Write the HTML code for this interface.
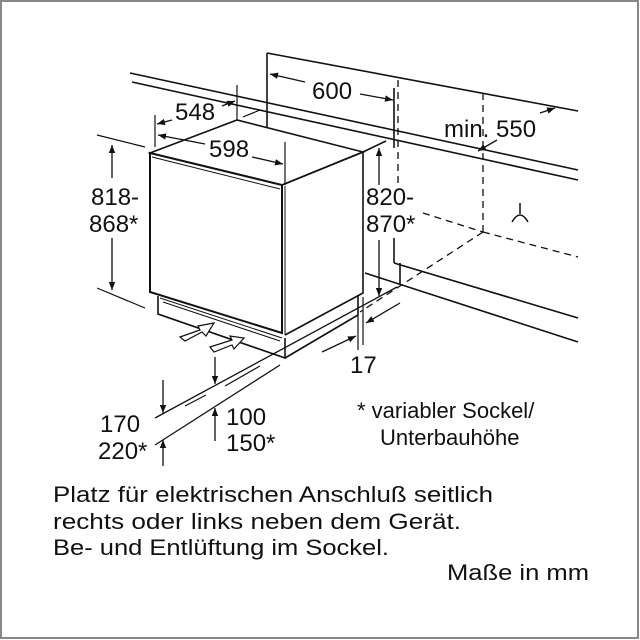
<!DOCTYPE html>
<html><head><meta charset="utf-8"><style>
html,body{margin:0;padding:0;background:#fff}
svg{display:block}
text{font-family:"Liberation Sans",Arial,sans-serif;fill:#111}
</style></head><body>
<svg width="640" height="640" viewBox="0 0 640 640" xmlns="http://www.w3.org/2000/svg">
<defs>
<marker id="a" viewBox="0 0 10 10" refX="10" refY="5" markerWidth="8" markerHeight="8" orient="auto-start-reverse" markerUnits="userSpaceOnUse"><path d="M0,1 L10,5 L0,9 Z" fill="#111"/></marker>
</defs>
<rect x="1" y="1" width="637" height="637" fill="none" stroke="#888" stroke-width="2"/>
<g stroke="#111" stroke-width="1.6" fill="none">
<line x1="267" y1="53" x2="578" y2="111"/>
<line x1="130" y1="73" x2="578" y2="170"/>
<line x1="132" y1="82" x2="578" y2="180"/>
<line x1="267" y1="53" x2="267" y2="137"/>
<line x1="394" y1="88" x2="394" y2="148"/>
<line x1="394" y1="238" x2="394" y2="263"/>
<line x1="394" y1="263" x2="578" y2="318"/>
<line x1="400" y1="263" x2="400" y2="285"/>
<line x1="365" y1="273" x2="578" y2="342"/>
<g stroke-dasharray="7,5" stroke-width="1.3">
<line x1="398" y1="80" x2="398" y2="185"/>
<line x1="483" y1="93" x2="483" y2="232"/>
<line x1="423" y1="213" x2="483" y2="232"/>
<line x1="483" y1="232" x2="578" y2="257"/>
<line x1="483" y1="232" x2="360" y2="312"/>
</g>
<polygon points="150,153 237,120 363,152 282,185" fill="#fff"/>
<polygon points="150,153 282,185 282,333 150,292" fill="#fff" stroke-width="2"/>
<polyline points="152,157 280,189" stroke-width="1"/>
<line x1="285" y1="186" x2="285" y2="335" stroke-width="1"/>
<polyline points="282,185 363,152 363,293 285,335"/>
<line x1="363" y1="152" x2="386" y2="141"/>
<polyline points="158,296 158,314 285,358 285,338"/>
<polyline points="285,358 358,315 358,295"/>
<line x1="160" y1="298" x2="282" y2="338" stroke-width="1"/>
<line x1="163" y1="302" x2="280" y2="341" stroke-width="1"/>
<polygon points="180,337 200,330 198,326 214,323 206,336 202,332 185,341" fill="#fff" stroke-width="1.2"/>
<polygon points="210,347 232,340 230,336 244,338 234,349 232,345 214,352" fill="#fff" stroke-width="1.2"/>
<line x1="97" y1="135" x2="145" y2="147" stroke-width="1.2"/>
<line x1="97" y1="288" x2="145" y2="308" stroke-width="1.2"/>
<line x1="112" y1="145" x2="112" y2="178" marker-start="url(#a)" stroke-width="1.3"/>
<line x1="112" y1="238" x2="112" y2="290" marker-end="url(#a)" stroke-width="1.3"/>
<line x1="155" y1="115" x2="155" y2="147" stroke-width="1.2"/>
<line x1="237" y1="85" x2="237" y2="120" stroke-width="1.2"/>
<line x1="285" y1="142" x2="285" y2="185" stroke-width="1.2"/>
<line x1="157" y1="124" x2="172" y2="120" marker-start="url(#a)" stroke-width="1.3"/>
<line x1="222" y1="106" x2="235" y2="101" marker-end="url(#a)" stroke-width="1.3"/>
<line x1="158" y1="135" x2="205" y2="144" marker-start="url(#a)" stroke-width="1.3"/>
<line x1="252" y1="157" x2="283" y2="164" marker-end="url(#a)" stroke-width="1.3"/>
<line x1="243" y1="117" x2="260" y2="110" stroke-width="1.2"/>
<line x1="270" y1="74" x2="305" y2="82" marker-start="url(#a)" stroke-width="1.3"/>
<line x1="360" y1="94" x2="393" y2="100" marker-end="url(#a)" stroke-width="1.3"/>
<line x1="497" y1="140" x2="478" y2="151" marker-end="url(#a)" stroke-width="1.3"/>
<line x1="540" y1="113" x2="555" y2="108" marker-end="url(#a)" stroke-width="1.3"/>
<line x1="379" y1="148" x2="379" y2="185" marker-start="url(#a)" stroke-width="1.3"/>
<line x1="379" y1="240" x2="379" y2="296" marker-end="url(#a)" stroke-width="1.3"/>
<line x1="358" y1="316" x2="358" y2="350" stroke-width="1.2"/>
<line x1="363" y1="297" x2="363" y2="345" stroke-width="1.2"/>
<line x1="322" y1="352" x2="356" y2="336" marker-end="url(#a)" stroke-width="1.3"/>
<line x1="400" y1="303" x2="366" y2="323" marker-end="url(#a)" stroke-width="1.3"/>
<line x1="155" y1="418" x2="397" y2="287" stroke-width="1.3"/>
<line x1="185" y1="406" x2="206" y2="395" stroke-width="1.2"/>
<line x1="225" y1="386" x2="260" y2="366" stroke-width="1.2"/>
<line x1="155" y1="445" x2="280" y2="365" stroke-width="1.3"/>
<line x1="163" y1="380" x2="163" y2="413" marker-end="url(#a)" stroke-width="1.3"/>
<line x1="215" y1="357" x2="215" y2="384" marker-end="url(#a)" stroke-width="1.3"/>
<line x1="215" y1="441" x2="215" y2="408" marker-end="url(#a)" stroke-width="1.3"/>
<line x1="163" y1="466" x2="163" y2="440" marker-end="url(#a)" stroke-width="1.3"/>
<path d="M520,203 L520,214 M512,222 Q520,208 528,222" stroke-width="1.5"/>
</g>
<g font-size="24">
<text x="175" y="120">548</text>
<text x="209" y="157">598</text>
<text x="312" y="99">600</text>
<text x="444" y="137">min. 550</text>
<text x="91" y="205">818-</text>
<text x="89" y="232">868*</text>
<text x="366" y="205">820-</text>
<text x="366" y="232">870*</text>
<text x="350" y="373">17</text>
<text x="100" y="432">170</text>
<text x="98" y="459">220*</text>
<text x="226" y="425">100</text>
<text x="226" y="451">150*</text>
</g>
<g font-size="22">
<text x="357" y="418">* variabler Sockel/</text>
<text x="380" y="445">Unterbauhöhe</text>
<text x="53" y="502" textLength="440" lengthAdjust="spacingAndGlyphs">Platz für elektrischen Anschluß seitlich</text>
<text x="53" y="529" textLength="408" lengthAdjust="spacingAndGlyphs">rechts oder links neben dem Gerät.</text>
<text x="53" y="555" textLength="336" lengthAdjust="spacingAndGlyphs">Be- und Entlüftung im Sockel.</text>
<text x="447" y="580" textLength="142" lengthAdjust="spacingAndGlyphs">Maße in mm</text>
</g>
</svg>
</body></html>
